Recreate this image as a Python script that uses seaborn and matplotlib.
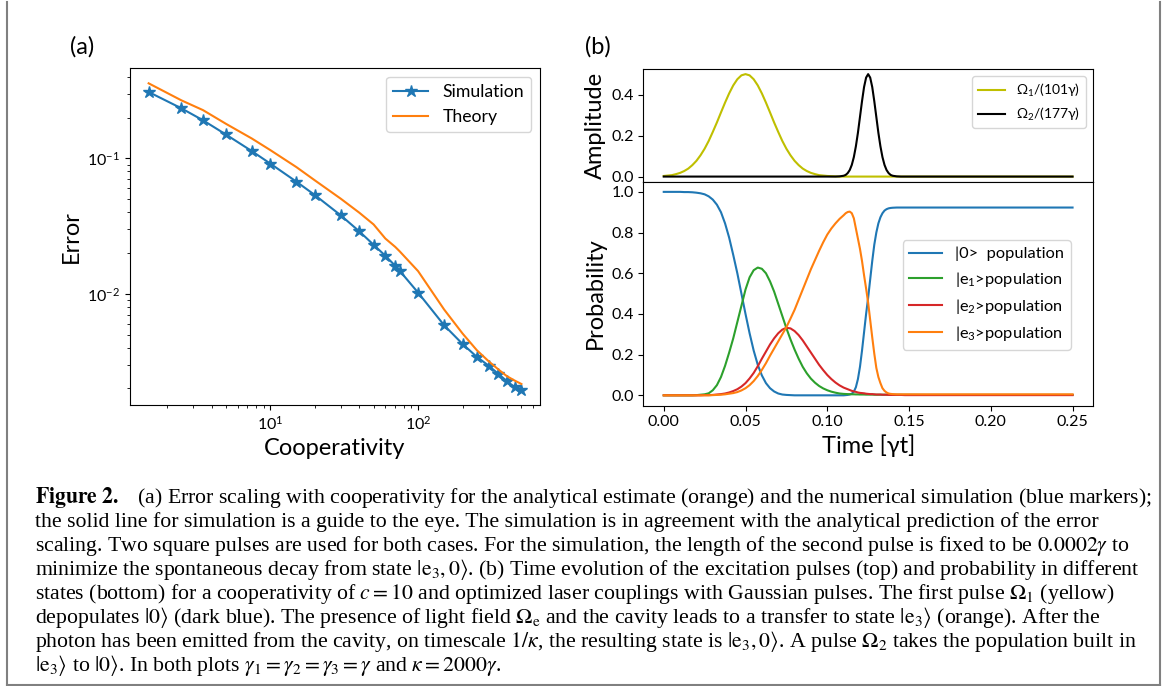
import numpy as np
import pandas as pd
import matplotlib
matplotlib.use("Agg")
import matplotlib.pyplot as plt
import seaborn as sns
from matplotlib.lines import Line2D

# ---------------- data: panel (a) ----------------
cooperativity = [1.5, 2.5, 3.5, 5, 7.5, 10, 15, 20, 30, 40, 50, 60, 70, 75,
                 100, 150, 200, 250, 300, 350, 400, 450, 500]
error_simulation = [0.309, 0.234, 0.191, 0.150, 0.113, 0.0914, 0.0673, 0.0536,
                    0.0379, 0.0289, 0.0230, 0.0191, 0.0161, 0.0148, 0.0102,
                    0.00586, 0.00426, 0.00342, 0.00295, 0.00256, 0.00226,
                    0.00205, 0.00196]
error_theory = [0.358, 0.268, 0.227, 0.180, 0.140, 0.115, 0.0862, 0.0688,
                0.0503, 0.0397, 0.0325, 0.0256, 0.0222, 0.0206, 0.0147,
                0.00766, 0.00509, 0.00383, 0.00318, 0.00276, 0.00246,
                0.00229, 0.00216]

# ---------------- data: panel (b) ----------------
time_gt = [0.0, 0.0025, 0.005, 0.0075, 0.01, 0.0125, 0.015, 0.0175, 0.02, 0.0225,
           0.025, 0.0275, 0.03, 0.0325, 0.035, 0.0375, 0.04, 0.0425, 0.045, 0.0475,
           0.05, 0.0525, 0.055, 0.0575, 0.06, 0.0625, 0.065, 0.0675, 0.07, 0.0725,
           0.075, 0.0775, 0.08, 0.0825, 0.085, 0.0875, 0.09, 0.0925, 0.095, 0.0975,
           0.1, 0.1025, 0.105, 0.1075, 0.11,
           0.11125, 0.1125, 0.11375, 0.115, 0.11625, 0.1175, 0.11875, 0.12,
           0.12125, 0.1225, 0.12375, 0.125, 0.12625, 0.1275, 0.12875, 0.13,
           0.13125, 0.1325, 0.13375, 0.135, 0.13625, 0.1375, 0.13875, 0.14,
           0.1425, 0.145, 0.1475, 0.15, 0.16, 0.18, 0.2, 0.22, 0.25]

omega1_amp = ([0.003, 0.005, 0.007, 0.012, 0.018, 0.027, 0.039, 0.056, 0.077, 0.104,
               0.136, 0.174, 0.218, 0.264, 0.313, 0.361, 0.406, 0.445, 0.475, 0.494,
               0.500, 0.494, 0.475, 0.445, 0.406, 0.361, 0.313, 0.264, 0.218, 0.174,
               0.136, 0.104, 0.077, 0.056, 0.039, 0.027, 0.018, 0.012, 0.007, 0.005,
               0.003, 0.002, 0.001, 0.0, 0.0]
              + [0.0] * 24 + [0.0] * 9)
omega2_amp = ([0.0] * 43 + [0.001, 0.004]
              + [0.008, 0.017, 0.032, 0.057, 0.095, 0.148, 0.214, 0.291, 0.368, 0.437,
                 0.483, 0.500, 0.483, 0.437, 0.368, 0.291, 0.214, 0.148, 0.095, 0.057,
                 0.032, 0.017, 0.008, 0.004]
              + [0.001] + [0.0] * 8)

pop_0 = ([1.0, 1.0, 1.0, 1.0, 1.0, 0.999, 0.999, 0.998, 0.996, 0.993, 0.988, 0.978,
          0.962, 0.937, 0.90, 0.845, 0.775, 0.69, 0.60, 0.50, 0.40, 0.305, 0.22, 0.15,
          0.098, 0.06, 0.035, 0.019, 0.009, 0.004, 0.002, 0.001] + [0.0] * 13
         + [0.001, 0.002, 0.004, 0.008, 0.018, 0.04, 0.08, 0.14, 0.22, 0.31, 0.40,
            0.48, 0.57, 0.66, 0.74, 0.80, 0.845, 0.875, 0.895, 0.908, 0.915, 0.919,
            0.921, 0.922]
         + [0.923] * 9)
pop_e1 = ([0.0] * 8
          + [0.001, 0.003, 0.005, 0.01, 0.025, 0.05, 0.09, 0.145, 0.21, 0.28, 0.36,
             0.44, 0.52, 0.58, 0.615, 0.628, 0.622, 0.60, 0.56, 0.51, 0.45, 0.39, 0.33,
             0.275, 0.225, 0.18, 0.14, 0.108, 0.082, 0.062, 0.046, 0.034, 0.025, 0.018,
             0.013, 0.009, 0.007]
          + [0.0065, 0.006, 0.0055, 0.005, 0.005, 0.0045, 0.0045, 0.004, 0.004, 0.004,
             0.0035, 0.0035, 0.0035, 0.0035, 0.003, 0.003, 0.003, 0.003, 0.003, 0.003,
             0.003, 0.003, 0.0025, 0.0025]
          + [0.0025, 0.0025, 0.0025, 0.0025, 0.002, 0.002, 0.002, 0.002, 0.002])
pop_e2 = ([0.0] * 10
          + [0.001, 0.001, 0.002, 0.004, 0.006, 0.009, 0.014, 0.021, 0.03, 0.043, 0.06,
             0.083, 0.11, 0.143, 0.18, 0.215, 0.25, 0.28, 0.305, 0.323, 0.332, 0.329,
             0.316, 0.296, 0.27, 0.24, 0.21, 0.18, 0.15, 0.124, 0.10, 0.08, 0.063,
             0.049, 0.038]
          + [0.034, 0.03, 0.026, 0.022, 0.019, 0.017, 0.014, 0.012, 0.011, 0.01, 0.008,
             0.007, 0.006, 0.006, 0.005, 0.004, 0.004, 0.004, 0.003, 0.003, 0.003,
             0.002, 0.002, 0.002]
          + [0.002, 0.002] + [0.001] * 7)
pop_e3 = ([0.0] * 12
          + [0.001, 0.002, 0.003, 0.005, 0.008, 0.011, 0.016, 0.024, 0.035, 0.05, 0.07,
             0.095, 0.125, 0.158, 0.195, 0.23, 0.265, 0.30, 0.335, 0.377, 0.42, 0.47,
             0.52, 0.57, 0.62, 0.665, 0.71, 0.752, 0.79, 0.82, 0.845, 0.867, 0.885]
          + [0.895, 0.901, 0.903, 0.895, 0.87, 0.82, 0.77, 0.72, 0.66, 0.59, 0.525,
             0.455, 0.37, 0.285, 0.205, 0.135, 0.09, 0.06, 0.035, 0.022, 0.014, 0.009,
             0.007, 0.006]
          + [0.005] * 9)

pulse_labels = ["Ω$_1$/(101γ)", "Ω$_2$/(177γ)"]
pop_labels = ["|0>  population", "|e$_1$>population", "|e$_2$>population",
              "|e$_3$>population"]

caption_lines = [
    r"$\mathbf{Figure\ 2.}$   (a) Error scaling with cooperativity for the analytical estimate (orange) and the numerical simulation (blue markers);",
    r"the solid line for simulation is a guide to the eye. The simulation is in agreement with the analytical prediction of the error",
    r"scaling. Two square pulses are used for both cases. For the simulation, the length of the second pulse is fixed to be $0.0002\gamma$ to",
    r"minimize the spontaneous decay from state $|\mathrm{e}_3, 0\rangle$. (b) Time evolution of the excitation pulses (top) and probability in different",
    r"states (bottom) for a cooperativity of $c = 10$ and optimized laser couplings with Gaussian pulses. The first pulse $\Omega_1$ (yellow)",
    r"depopulates $|0\rangle$ (dark blue). The presence of light field $\Omega_\mathrm{e}$ and the cavity leads to a transfer to state $|\mathrm{e}_3\rangle$ (orange). After the",
    r"photon has been emitted from the cavity, on timescale $1/\kappa$, the resulting state is $|\mathrm{e}_3, 0\rangle$. A pulse $\Omega_2$ takes the population built in",
    r"$|\mathrm{e}_3\rangle$ to $|0\rangle$. In both plots $\gamma_1 = \gamma_2 = \gamma_3 = \gamma$ and $\kappa = 2000\gamma$.",
]

# ---------------- style ----------------
plt.rcParams['font.family'] = ['Lato', 'DejaVu Sans']
plt.rcParams['mathtext.fontset'] = 'custom'
plt.rcParams['mathtext.rm'] = 'Lato'
plt.rcParams['mathtext.it'] = 'Lato:italic'
plt.rcParams['mathtext.bf'] = 'Lato:bold'
plt.rcParams['xtick.labelsize'] = 11.5
plt.rcParams['ytick.labelsize'] = 11.5

W, H = 1165, 686
fig = plt.figure(figsize=(W / 100, H / 100), dpi=100)


def rect(l, t, r, b):
    return [l / W, 1 - b / H, (r - l) / W, (b - t) / H]


ax_a = fig.add_axes(rect(130, 68, 540, 405))
ax_t = fig.add_axes(rect(643.3, 69, 1093, 181.7))
ax_b = fig.add_axes(rect(643.3, 181.7, 1093, 405.5), sharex=ax_t)

# ---------------- panel (a) ----------------
df_a = pd.DataFrame({"c": cooperativity, "sim": error_simulation, "th": error_theory})
ax_a.set_xscale("log")
ax_a.set_yscale("log")
sns.lineplot(data=df_a, x="c", y="sim", ax=ax_a, color="#1f77b4", marker="*",
             markersize=9, markeredgecolor="#1f77b4", markeredgewidth=1.0,
             lw=1.5, label="Simulation")
sns.lineplot(data=df_a, x="c", y="th", ax=ax_a, color="#ff7f0e", lw=1.5,
             label="Theory")
ax_a.set_xlabel("Cooperativity", fontsize=17)
ax_a.set_ylabel("Error", fontsize=17)
ax_a.legend(loc="upper right", fontsize=12.7)

# ---------------- panel (b) top ----------------
df_b = pd.DataFrame({"t": time_gt, "o1": omega1_amp, "o2": omega2_amp,
                     "p0": pop_0, "p1": pop_e1, "p2": pop_e2, "p3": pop_e3})
sns.lineplot(data=df_b, x="t", y="o1", ax=ax_t, color="#bfbf00", lw=1.5,
             label=pulse_labels[0])
sns.lineplot(data=df_b, x="t", y="o2", ax=ax_t, color="k", lw=1.5,
             label=pulse_labels[1])
ax_t.set_yticks([0.0, 0.2, 0.4])
ax_t.set_ylabel("Amplitude", fontsize=17)
ax_t.set_xlabel("")
ax_t.tick_params(axis="x", bottom=False, labelbottom=False)
ax_t.legend(loc="upper right", fontsize=10)

# ---------------- panel (b) bottom ----------------
for col, colr, lab in zip(["p0", "p1", "p2", "p3"],
                          ["#1f77b4", "#2ca02c", "#d62728", "#ff7f0e"], pop_labels):
    sns.lineplot(data=df_b, x="t", y=col, ax=ax_b, color=colr, lw=1.5, label=lab)
ax_b.set_yticks([0.0, 0.2, 0.4, 0.6, 0.8, 1.0])
ax_b.set_xticks([0.0, 0.05, 0.10, 0.15, 0.20, 0.25])
ax_b.xaxis.set_major_formatter(matplotlib.ticker.FormatStrFormatter("%.2f"))
ax_b.set_xlabel("Time [γt]", fontsize=17)
ax_b.set_ylabel("Probability", fontsize=17)
ax_b.legend(loc="center right", bbox_to_anchor=(0.9504, 0.494), borderaxespad=0,
            fontsize=11.8)

# ---------------- labels & caption ----------------
fig.text(70 / W, 1 - 47 / H, "(a)", fontsize=17, va="center")
fig.text(585 / W, 1 - 47 / H, "(b)", fontsize=17, va="center")

for k, line in enumerate(caption_lines):
    fig.text(35 / W, 1 - (502.7 + 24.1 * k) / H, line, fontsize=15.7,
             family="Liberation Serif", math_fontfamily="stix", va="baseline")

# page border
bc = "#808080"
fig.add_artist(Line2D([7 / W, 7 / W], [1 - 2 / H, 1 - 685 / H], transform=fig.transFigure,
                      color=bc, lw=1.5))
fig.add_artist(Line2D([1160 / W, 1160 / W], [1 - 2 / H, 1 - 685 / H],
                      transform=fig.transFigure, color=bc, lw=1.5))
fig.add_artist(Line2D([7 / W, 1160 / W], [1 - 685 / H, 1 - 685 / H],
                      transform=fig.transFigure, color=bc, lw=1.5))

fig.savefig("out.png", dpi=100)
